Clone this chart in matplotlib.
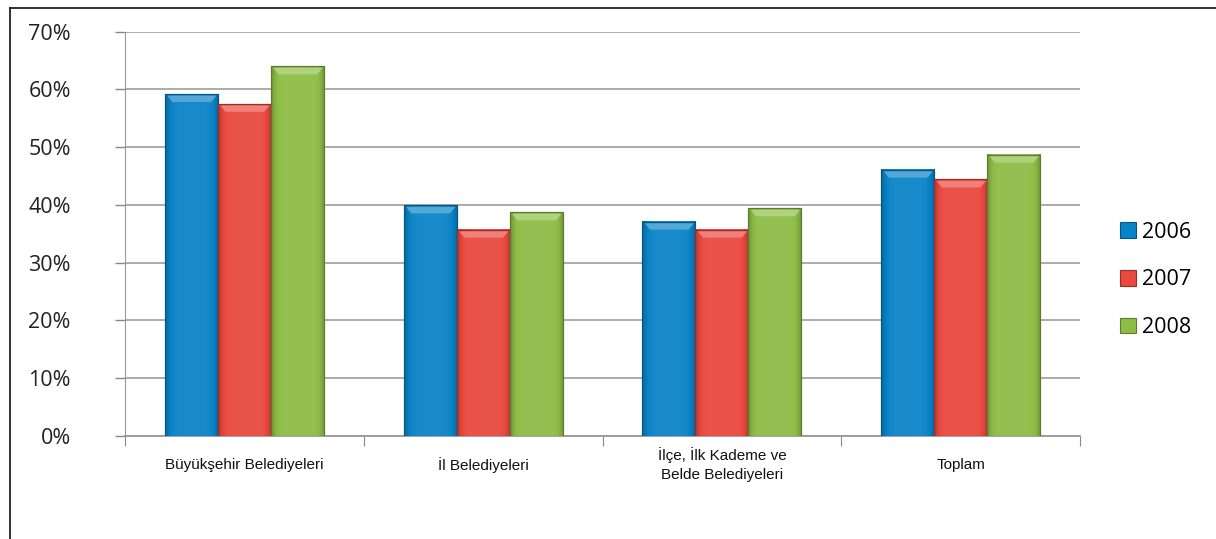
import numpy as np
import matplotlib.pyplot as plt
from matplotlib.colors import to_rgb
from matplotlib.lines import Line2D

categories = ["Büyükşehir Belediyeleri", "İl Belediyeleri",
              "İlçe, İlk Kademe ve\nBelde Belediyeleri", "Toplam"]
years = ["2006", "2007", "2008"]
v2006 = [59.2, 39.9, 37.1, 46.1]
v2007 = [57.5, 35.7, 35.7, 44.4]
v2008 = [64.0, 38.7, 39.4, 48.7]
yticks = [0, 10, 20, 30, 40, 50, 60, 70]

colors = ["#0A83C6", "#E9493F", "#8EBD46"]
series = [v2006, v2007, v2008]

fig = plt.figure(figsize=(12.16, 5.39), dpi=100)
ax = fig.add_axes([0.1028, 0.1917, 0.7854, 0.7495])

x = np.arange(len(categories))
w = 0.222


def shade(c, f):
    c = np.array(to_rgb(c))
    if f < 0:
        return tuple(c * (1 + f))
    return tuple(c + (1 - c) * f)


# horizontal profile: darker edges, lighter centre
prof = np.linspace(-1, 1, 64)
prof = 0.06 - 0.30 * prof ** 6
for i, (vals, col) in enumerate(zip(series, colors)):
    pos = x + (i - 1) * w
    bars = ax.bar(pos, vals, w, color=col, edgecolor=shade(col, -0.35),
                  linewidth=0.8, label=years[i], zorder=3)
    for b, v in zip(bars, vals):
        grad = np.array([[shade(col, f) for f in prof]])
        x0 = b.get_x()
        ax.imshow(grad, extent=(x0, x0 + w, 0, v), aspect="auto",
                  zorder=3.5, interpolation="bilinear")
        # glossy bevel at the top
        ax.fill_between([x0 + 0.008, x0 + 0.03, x0 + w - 0.03, x0 + w - 0.008],
                        [v - 0.2, v - 1.3, v - 1.3, v - 0.2],
                        [v - 0.2] * 4,
                        color=shade(col, 0.3), zorder=4, linewidth=0)
        ax.add_patch(plt.Rectangle((x0, 0), w, v, fill=False,
                                   edgecolor=shade(col, -0.35), lw=0.8, zorder=5))

ax.set_xlim(-0.5, len(categories) - 0.5)
ax.set_ylim(0, 70)
ax.set_yticks(yticks)
ax.set_yticklabels([f"{t}%" for t in yticks], fontsize=15.5,
                   family=["Open Sans", "DejaVu Sans"], color="#222222")
ax.grid(axis="y", color="#A5A5A5", linewidth=1.3, zorder=0)
ax.set_xticks(np.arange(-0.5, len(categories)))
ax.set_xticklabels([])
ax.tick_params(axis="x", length=7, color="#888888", direction="out")
ax.tick_params(axis="y", length=7, color="#888888", pad=32, width=1)
for s in ["top", "right"]:
    ax.spines[s].set_visible(False)
ax.spines["left"].set_color("#999999")
ax.spines["bottom"].set_color("#999999")
ax.spines["bottom"].set_linewidth(1.3)

for xi, c in zip(x, categories):
    ax.text(xi, -5.0, c, ha="center", va="center", fontsize=11,
            family=["Liberation Sans Narrow", "Liberation Sans", "DejaVu Sans"],
            transform=ax.transData, linespacing=1.5, color="#111111")

handles, labels = ax.get_legend_handles_labels()
leg = fig.legend(handles, labels, loc="center left",
                 bbox_to_anchor=(0.905, 0.481), frameon=False,
                 prop={"family": ["Open Sans", "DejaVu Sans"], "size": 15.5},
                 handlelength=0.75, handleheight=0.75, handletextpad=0.3,
                 labelspacing=1.24)

# outer frame (only left and top edges are inside the picture)
fig.add_artist(Line2D([10 / 1216, 10 / 1216], [0, 1 - 8 / 539],
                      color="#222222", lw=1.3, transform=fig.transFigure))
fig.add_artist(Line2D([10 / 1216, 1], [1 - 8 / 539, 1 - 8 / 539],
                      color="#222222", lw=1.3, transform=fig.transFigure))

fig.savefig("out.png", dpi=100)
